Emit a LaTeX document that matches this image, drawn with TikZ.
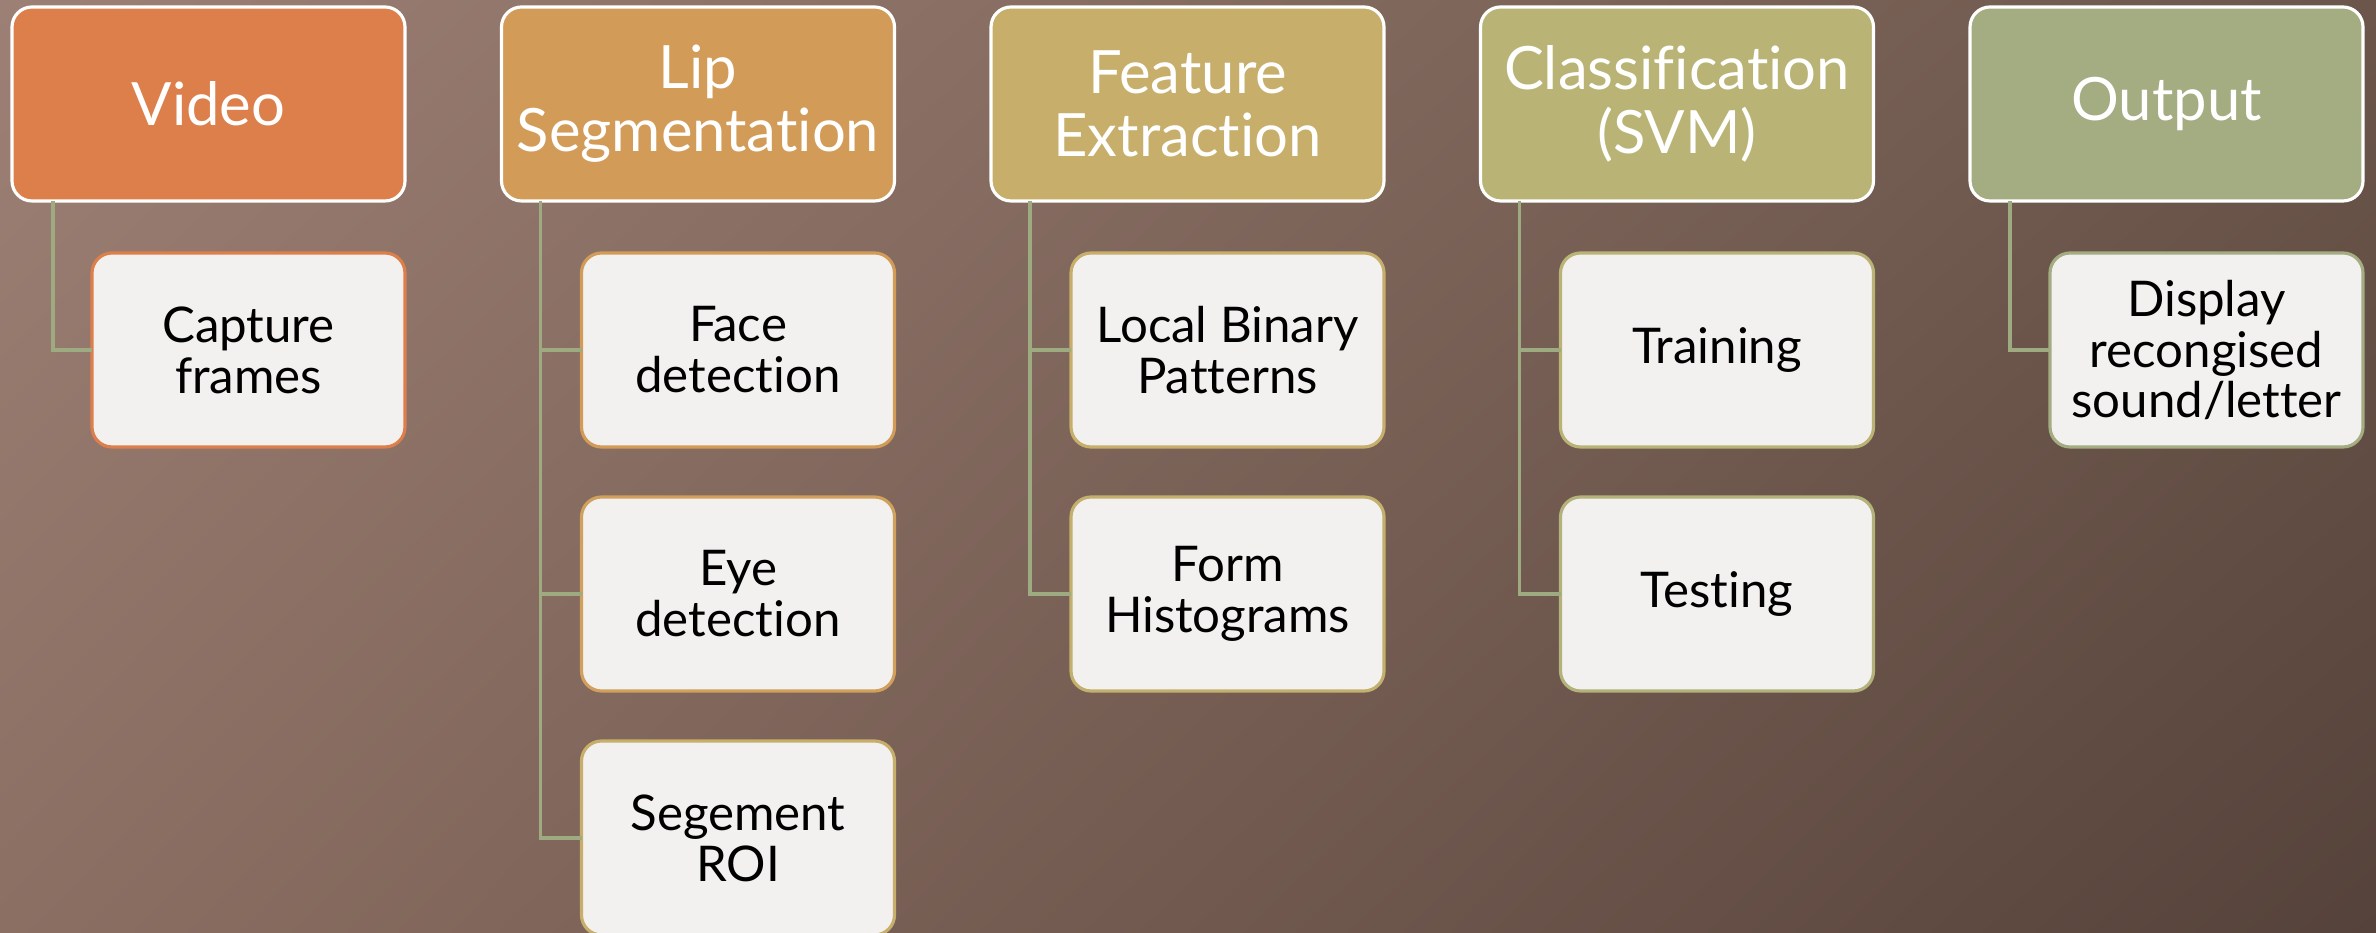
\documentclass[tikz,border=0pt]{standalone}
\usepackage{fontspec}
\setmainfont{Lato}[Ligatures={NoCommon,NoRequired,NoContextual}]
\usetikzlibrary{positioning, shadings}

\definecolor{bgUL}{HTML}{9D8075}
\definecolor{bgUR}{HTML}{6C564B}
\definecolor{bgLL}{HTML}{8C6F63}
\definecolor{bgLR}{HTML}{55423A}
\definecolor{cvideo}{HTML}{DD7F4A}
\definecolor{clip}{HTML}{D29C58}
\definecolor{cfeat}{HTML}{C7AE6B}
\definecolor{cclass}{HTML}{B9B476}
\definecolor{cout}{HTML}{A4AC82}
\definecolor{taskfill}{HTML}{F3F1EF}
\definecolor{linkgreen}{HTML}{9EAA7F}

\begin{document}
\begin{tikzpicture}[
    node distance=0.5cm,
    stage/.style={rectangle, draw=white, line width=0.9pt, outer sep=0pt, text=white, minimum width=3.93cm, minimum height=1.94cm, rounded corners=0.2cm, align=center, inner sep=0pt, font=\fontsize{17}{18}\selectfont},
    task/.style={rectangle, draw, line width=0.9pt, outer sep=0pt, fill=taskfill, text=black, minimum width=3.13cm, minimum height=1.94cm, rounded corners=0.2cm, align=center, inner sep=0pt, font=\fontsize{14}{14.5}\selectfont},
    link/.style={draw=linkgreen, line width=0.9pt}
]

% Background
\useasboundingbox (0,0) rectangle (23.76,9.33);
\shade[upper left=bgUL, upper right=bgUR, lower left=bgLL, lower right=bgLR] (0,0) rectangle (23.76,9.33);

% Stages
\node[stage, fill=cvideo] (video) at (2.085,8.29) {Video};
\node[stage, fill=clip, right=0.965cm of video] (lip) {Lip\\Segmentation};
\node[stage, fill=cfeat, right=0.965cm of lip] (feature) {Feature\\Extraction};
\node[stage, fill=cclass, right=0.965cm of feature] (classify) {Classification\\(SVM)};
\node[stage, fill=cout, right=0.965cm of classify] (output) {Output};

% Video
\node[task, draw=cvideo, below left=0.52cm and 0cm of video.south east] (capture) {Capture\\frames};

% Lip Segmentation
\node[task, draw=clip, below left=0.52cm and 0cm of lip.south east] (face) {Face\\detection};
\node[task, draw=clip!80!cfeat, below=of face] (eye) {Eye\\detection};
\node[task, draw=cfeat, below=of eye] (roi) {Segement\\ROI};

% Feature Extraction
\node[task, draw=cfeat, below left=0.52cm and 0cm of feature.south east] (lbp) {Local Binary\\Patterns};
\node[task, draw=cfeat!70!cclass, below=of lbp] (hist) {Form\\Histograms};

% Classification
\node[task, draw=cclass, below left=0.52cm and 0cm of classify.south east] (train) {Training};
\node[task, draw=cclass!70!cout, below=of train] (test) {Testing};

% Output
\node[task, draw=cout, below left=0.52cm and 0cm of output.south east] (display) {Display\\recongised\\sound/letter};

% Links
\draw[link] ([xshift=0.41cm]video.south west) |- (capture.west);
\draw[link] ([xshift=0.39cm]lip.south west) |- (face.west);
\draw[link] ([xshift=0.39cm]lip.south west) |- (eye.west);
\draw[link] ([xshift=0.39cm]lip.south west) |- (roi.west);
\draw[link] ([xshift=0.39cm]feature.south west) |- (lbp.west);
\draw[link] ([xshift=0.39cm]feature.south west) |- (hist.west);
\draw[link] ([xshift=0.39cm]classify.south west) |- (train.west);
\draw[link] ([xshift=0.39cm]classify.south west) |- (test.west);
\draw[link] ([xshift=0.40cm]output.south west) |- (display.west);

\end{tikzpicture}
\end{document}
